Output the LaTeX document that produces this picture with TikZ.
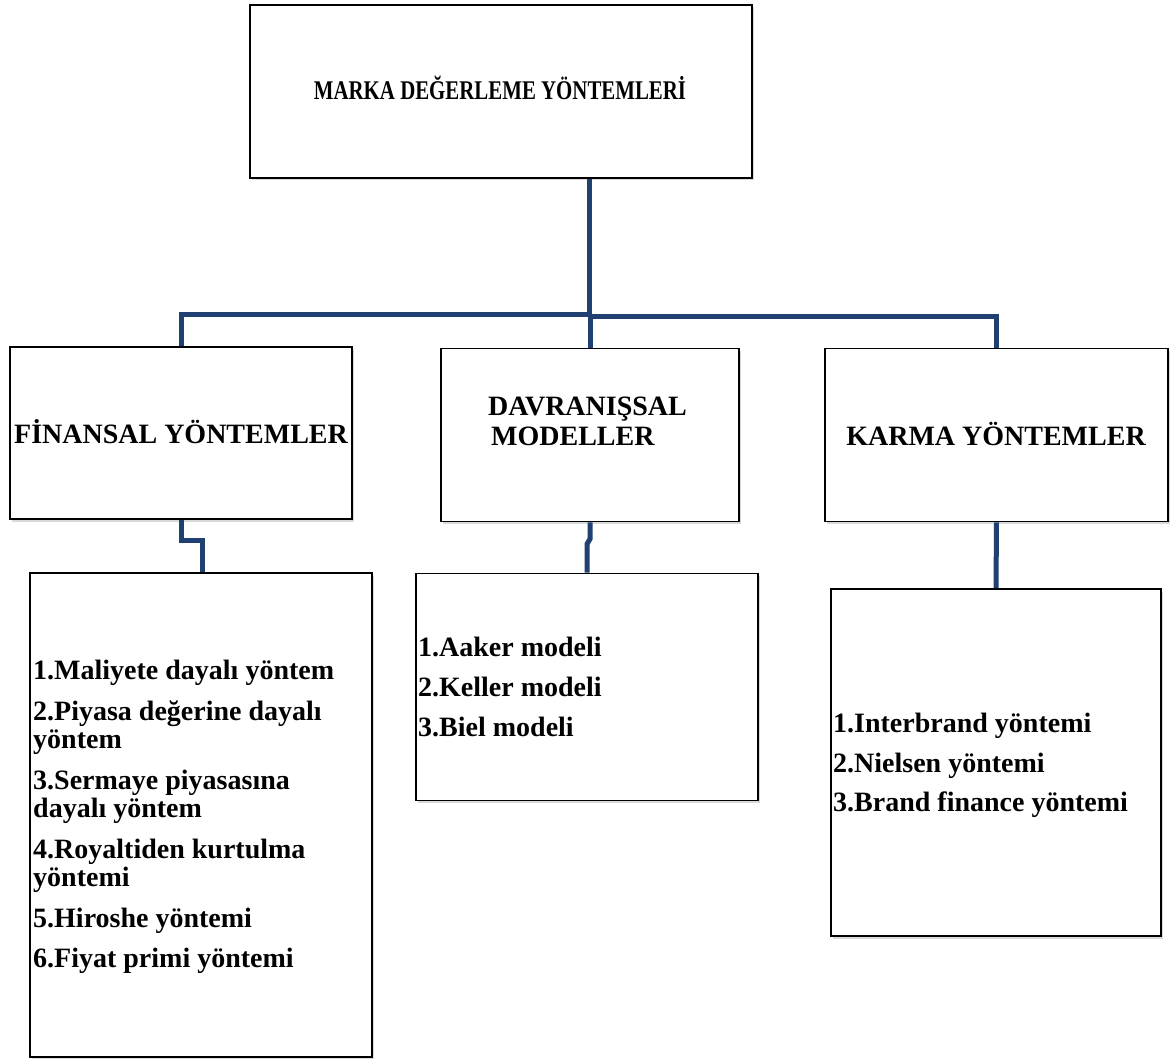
\documentclass[tikz,border=0pt]{standalone}
\usepackage{fontspec}
\setmainfont{Liberation Serif}
\usetikzlibrary{shadows}
\definecolor{conn}{HTML}{1F4070}
\tikzset{
  box/.style={draw=black, line width=1.6pt, fill=white, rectangle, inner sep=0pt,
    drop shadow={shadow xshift=1.5pt, shadow yshift=-2.5pt, opacity=0.3}},
  headtxt/.style={font=\fontsize{28}{30}\selectfont\bfseries, inner sep=0pt},
  toptxt/.style={font=\fontsize{27}{30}\selectfont\bfseries, inner sep=0pt, anchor=base},
  listtxt/.style={font=\fontsize{28}{28}\selectfont\bfseries, inner sep=0pt, align=left, anchor=north west},
  link/.style={draw=conn, line width=5pt, line join=miter}
}
\begin{document}
\begin{tikzpicture}[x=1pt,y=-1pt]
\useasboundingbox (0,0) rectangle (1173,1059);
% boxes
\node[box, minimum width=502pt, minimum height=173pt] (top) at (501,91.5) {};
\node[toptxt] (toplbl) at (500,100) {\scalebox{0.773}[1]{MARKA DEĞERLEME YÖNTEMLERİ}};
\node[box, minimum width=342pt, minimum height=172pt] (fin) at (181,433) {};
\node[headtxt, anchor=base] (finlbl) at (181,443) {FİNANSAL YÖNTEMLER};
\node[box, minimum width=298pt, minimum height=173pt] (dav) at (590,435) {};
\node[headtxt, align=left, anchor=north west] (davlbl) at (488,396.5) {DAVRANIŞSAL\\ \hspace*{3pt}MODELLER};
\node[box, minimum width=343pt, minimum height=173pt] (kar) at (996.5,435) {};
\node[headtxt, anchor=base] (karlbl) at (996,445) {KARMA YÖNTEMLER};
% list boxes
\node[box, minimum width=342pt, minimum height=484pt] (finl) at (201,815) {};
\node[listtxt] (finltxt) at (33,660) {1.Maliyete dayalı yöntem\\[13pt]
2.Piyasa değerine dayalı\\ yöntem\\[13pt]
3.Sermaye piyasasına\\ dayalı yöntem\\[13pt]
4.Royaltiden kurtulma\\ yöntemi\\[13pt]
5.Hiroshe yöntemi\\[12pt]
6.Fiyat primi yöntemi};
\node[box, minimum width=342pt, minimum height=227pt] (davl) at (587,687) {};
\node[listtxt] (davltxt) at (418,637) {1.Aaker modeli\\[12pt]
2.Keller modeli\\[12pt]
3.Biel modeli};
\node[box, minimum width=330pt, minimum height=347pt] (karl) at (996,762.5) {};
\node[listtxt] (karltxt) at (833,713) {1.Interbrand yöntemi\\[12pt]
2.Nielsen yöntemi\\[11pt]
3.Brand finance yöntemi};
% connectors
\coordinate (jl) at (589,314.5);
\coordinate (jr) at (589,317);
\coordinate (fj1) at (181,540);
\coordinate (fj2) at (202,540);
\coordinate (dj1) at (590,539);
\coordinate (dj2) at (587,544);
\draw[link] (top.south -| jr) -- (jr);
\draw[link] (fin.north) |- (jl);
\draw[link] (jr) -| (kar.north);
\draw[link] (jr -| dav.north) -- (dav.north);
\draw[link] (fin.south) -- (fj1) -- (fj2) -- (fj2 |- finl.north);
\draw[link] (dav.south) -- (dj1) -- (dj2) -- (dj2 |- davl.north);
\draw[link] (kar.south) -- (karl.north);
\end{tikzpicture}
\end{document}
